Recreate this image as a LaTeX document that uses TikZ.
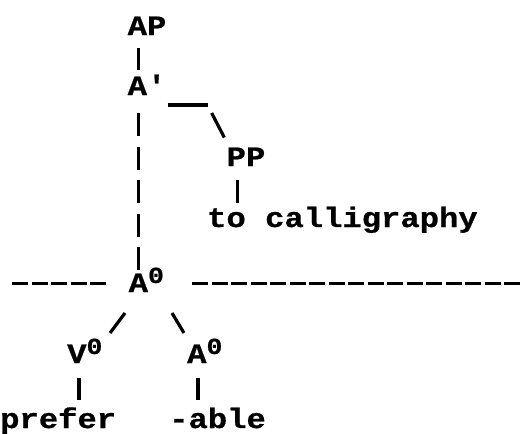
\documentclass[tikz,border=0pt]{standalone}
\usepackage{fontspec}
\newfontfamily\typefont[FakeStretch=1.15, BoldFeatures={FakeBold=0.8}]{Liberation Mono}
\usepackage{tikz}
\tikzstyle{catnode} = [inner sep=0pt, anchor=base west, font=\typefont\bfseries\fontsize{28}{28}\selectfont]
\tikzstyle{branch} = [line width=3.2pt]
\tikzstyle{trace} = [branch, dash pattern=on 23pt off 10.5pt]
\tikzstyle{wordline} = [line width=3pt, dash pattern=on 16pt off 3.5pt]
\newcommand{\supzero}{\raisebox{9pt}{\fontsize{23}{23}\selectfont 0}}

\begin{document}
\begin{tikzpicture}[x=1pt, y=1pt]
    \useasboundingbox (0,0) rectangle (523,-434);
    % labels of the tree
    \node (AP) [catnode] at (127.5,-35) {AP};
    \node (Abar) [catnode] at (127.5,-95) {A\textquotesingle};
    \node (PP) [catnode] at (226.5,-166) {PP};
    \node (calli) [catnode] at (207,-227) {to calligraphy};
    \node (A0) [catnode] at (128.5,-292) {A\supzero};
    \node (V0) [catnode] at (67,-363) {V\supzero};
    \node (Asuf) [catnode] at (187,-363) {A\supzero};
    \node (prefer) [catnode] at (0,-428) {prefer};
    \node (able) [catnode] at (169,-428) {-able};

    \coordinate (spine) at (138.5,0);
    \coordinate (elbow) at ([xshift=43.5pt, yshift=-10pt]Abar.base east);
    \coordinate (ppcol) at ([xshift=11pt]PP.base west);
    \coordinate (vcol) at ([xshift=12pt]V0.base west);
    \coordinate (acol) at ([xshift=11pt]Asuf.base west);

    \draw [branch, shorten <=13pt, shorten >=25pt] (AP.base -| spine) -- (Abar.base -| spine);
    \draw [trace, shorten <=18pt, shorten >=22pt] (Abar.base -| spine) -- (A0.base -| spine);
    \draw [branch, shorten <=3.5pt] (Abar.base east |- elbow) -- (elbow);
    \draw [branch, shorten <=9pt, shorten >=32pt] (elbow) -- ([xshift=12.5pt]PP.base west);
    \draw [branch, shorten <=14pt, shorten >=24pt] (ppcol) -- (ppcol |- calli.base);
    \draw [branch, shorten <=26.25pt, shorten >=37.5pt] ([xshift=12.25pt]A0.base west) -- ([xshift=20.5pt]V0.base west);
    \draw [branch, shorten <=24.5pt, shorten >=35pt] ([xshift=30.9pt]A0.base west) -- ([xshift=15pt]Asuf.base west);
    \draw [branch, shorten <=15pt, shorten >=28pt] (vcol) -- (vcol |- prefer.base);
    \draw [branch, shorten <=15pt, shorten >=28pt] (acol) -- (acol |- able.base);

    % word level
    \draw [wordline] (12,-283) -- (107,-283);
    \draw [wordline] (192,-283) -- (530,-283);
\end{tikzpicture}
\end{document}
